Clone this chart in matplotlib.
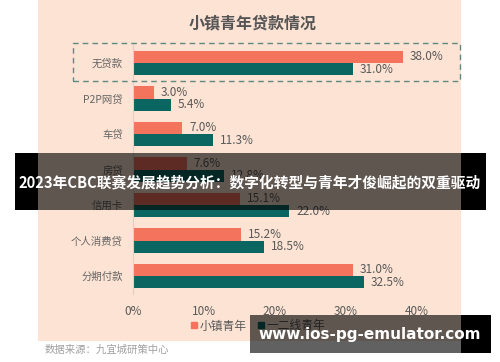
import matplotlib
matplotlib.use("Agg")
import matplotlib.pyplot as plt
import matplotlib.patches as patches
from matplotlib.lines import Line2D
import numpy as np

plt.rcParams['font.family'] = ['Noto Sans CJK SC', 'DejaVu Sans']

# 数据
categories = ['无贷款', 'P2P网贷', '车贷', '房贷', '信用卡', '个人消费贷', '分期付款']
town_youth = [38.0, 3.0, 7.0, 7.6, 15.1, 15.2, 31.0]
city_youth = [31.0, 5.4, 11.3, 12.8, 22.0, 18.5, 32.5]
series_names = ['小镇青年', '一二线青年']
x_ticks = [0, 10, 20, 30, 40]
x_tick_labels = ['0%', '10%', '20%', '30%', '40%']

c_orange = '#F4735C'
c_teal = '#0B6662'
c_bg = '#FCE3D3'
c_text = '#595959'

W, H = 500, 362
fig = plt.figure(figsize=(W / 100, H / 100), dpi=100)
fig.patch.set_facecolor('white')


def fx(px):
    return px / W


def fy(py):
    return 1 - py / H


# 背景面板
fig.patches.append(patches.Rectangle((fx(38), fy(341)), fx(461) - fx(38), 341 / H,
                                     transform=fig.transFigure, facecolor=c_bg,
                                     edgecolor='none', zorder=-1))

ax = fig.add_axes([0.2654, 0.1885, 0.5686, 0.6865])
ax.set_facecolor('none')

y = np.arange(len(categories))
h = 0.34
ax.barh(y - h / 2, town_youth, height=h, color=c_orange, label=series_names[0])
ax.barh(y + h / 2, city_youth, height=h, color=c_teal, label=series_names[1])

for i in range(len(categories)):
    ax.annotate('{:.1f}%'.format(town_youth[i]), (town_youth[i], y[i] - h / 2),
                xytext=(5, 0), textcoords='offset points', va='center',
                ha='left', fontsize=8.5, color=c_text, annotation_clip=False)
    ax.annotate('{:.1f}%'.format(city_youth[i]), (city_youth[i], y[i] + h / 2),
                xytext=(5, 0), textcoords='offset points', va='center',
                ha='left', fontsize=8.5, color=c_text, annotation_clip=False)

ax.set_xlim(0, 40)
ax.set_ylim(len(categories) - 0.5, -0.5)
ax.set_yticks(y)
ax.set_yticklabels(categories, fontsize=7.5, color='#666666')
ax.set_xticks(x_ticks)
ax.set_xticklabels(x_tick_labels, fontsize=8.5, color=c_text)
ax.tick_params(axis='both', length=0)
ax.tick_params(axis='y', pad=7)
ax.tick_params(axis='x', pad=8)
for s in ['top', 'right', 'bottom']:
    ax.spines[s].set_visible(False)
ax.spines['left'].set_color('#E0D0C4')

fig.text(fx(253), fy(23), '小镇青年贷款情况', ha='center', va='center',
         fontsize=11.5, fontweight='bold', color='#555555')

# 虚线框
fig.patches.append(patches.Rectangle((fx(73), fy(81)), fx(460) - fx(73), 38 / H,
                                     transform=fig.transFigure, facecolor='none',
                                     edgecolor='#5C8A80', linestyle=(0, (4, 3)),
                                     linewidth=1, zorder=5))

handles = [Line2D([], [], marker='s', linestyle='none', color=c_orange, markersize=5),
           Line2D([], [], marker='s', linestyle='none', color=c_teal, markersize=5)]
fig.legend(handles, series_names, loc='center', bbox_to_anchor=(0.514, fy(326)),
           ncol=2, frameon=False, fontsize=8.5, labelcolor=c_text,
           handletextpad=0.1, columnspacing=0.8, handlelength=0.8)

fig.text(fx(45), fy(350), '数据来源：九宜城研策中心', ha='left', va='center',
         fontsize=7.5, color='#A0A0A0', style='italic')

# 覆盖横幅
for (x0, x1, y0, y1, a) in [(15, 38, 153, 210, 1.0), (38, 461, 153, 210, 0.62),
                            (461, 486, 153, 210, 1.0),
                            (250, 461, 315, 353, 0.62), (461, 491, 315, 353, 1.0)]:
    fig.patches.append(patches.Rectangle((fx(x0), fy(y1)), fx(x1) - fx(x0), (y1 - y0) / H,
                                         transform=fig.transFigure, facecolor='black',
                                         alpha=a, edgecolor='none', zorder=10))

fig.text(fx(250), fy(182), '2023年CBC联赛发展趋势分析：数字化转型与青年才俊崛起的双重驱动',
         ha='center', va='center', fontsize=10.6, fontweight='bold', color='white',
         zorder=11)
fig.text(fx(370), fy(335), 'www.ios-pg-emulator.com', ha='center', va='center',
         fontsize=11, fontweight='bold', color='white', zorder=11,
         family=['DejaVu Sans'])

fig.savefig('out.png', dpi=100)
